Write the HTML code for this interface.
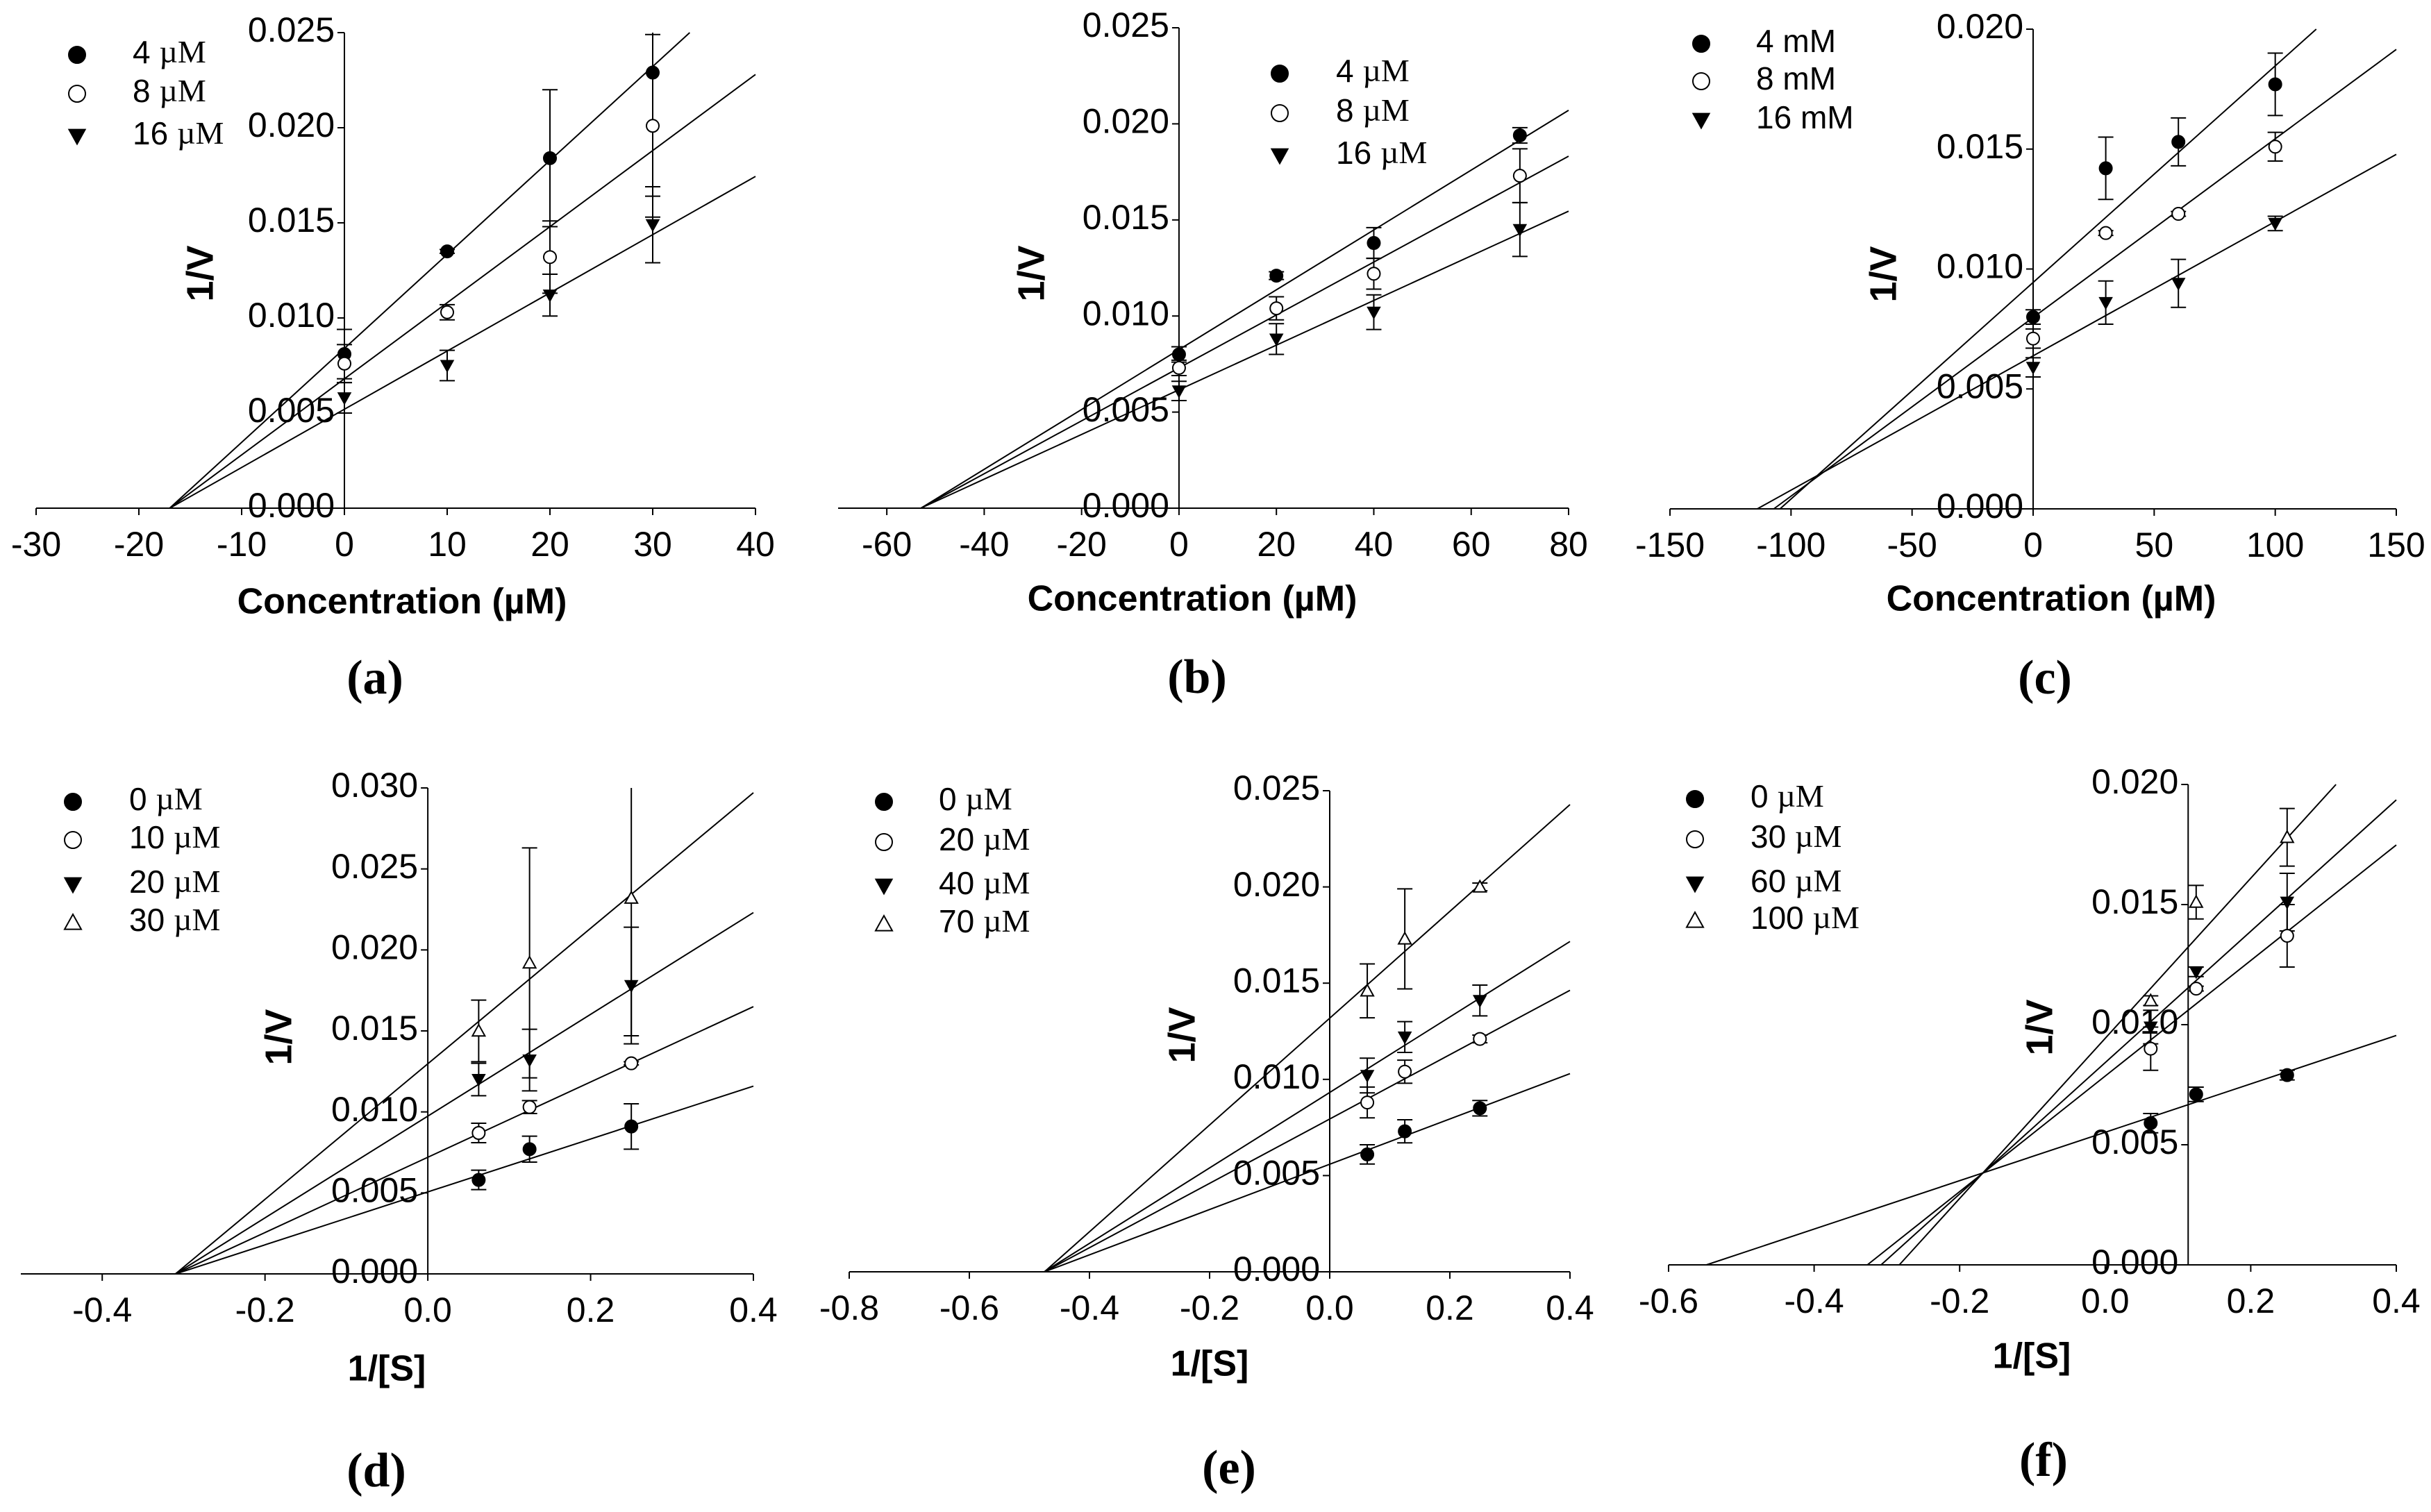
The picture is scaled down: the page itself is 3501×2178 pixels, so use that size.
<!DOCTYPE html>
<html><head><meta charset="utf-8"><style>
html,body{margin:0;padding:0;background:#fff;}
svg{display:block;}
</style></head><body>
<svg id="fig" xmlns="http://www.w3.org/2000/svg" width="3501" height="2178" viewBox="0 0 3501 2178"></svg>
<script>
// ---------- DATA ----------
const panelA_x = [0, 10, 20, 30];
const panelA_labels = ["4", "8", "16"];
const panelA_y = [[0.0081,0.0135,0.0184,0.0229],[0.0076,0.0103,0.0132,0.0201],[0.0058,0.0075,0.0112,0.0149]];
const panelA_err = [[0.0013,0.0001,0.0036,0.0065],[0.0010,0.0004,0.0019,0.0048],[0.0008,0.0008,0.0011,0.0020]];
const panelA_slope = [0.000494,0.0004,0.000306];
const panelA_icpt = [0.0084,0.0068,0.0052];

const panelB_x = [0, 20, 40, 70];
const panelB_labels = ["4", "8", "16"];
const panelB_y = [[0.0080,0.0121,0.0138,0.0194],[0.0073,0.0104,0.0122,0.0173],[0.0061,0.0088,0.0102,0.0145]];
const panelB_err = [[0.0004,0.0002,0.0008,0.0004],[0.0004,0.0006,0.0008,0.0014],[0.0005,0.0008,0.0009,0.0014]];
const panelB_slope = [0.0001557,0.0001377,0.0001162];
const panelB_icpt = [0.00825,0.0073,0.00616];

const panelC_x = [0, 30, 60, 100];
const panelC_labels = ["4", "8", "16"];
const panelC_y = [[0.0080,0.0142,0.0153,0.0177],[0.0071,0.0115,0.0123,0.0151],[0.0059,0.0086,0.0094,0.0119]];
const panelC_err = [[0.0003,0.0013,0.0010,0.0013],[0.0004,0.0001,0.0001,0.0006],[0.0004,0.0009,0.0010,0.0003]];
const panelC_slope = [0.0000903,0.0000745,0.000056];
const panelC_icpt = [0.00944,0.00798,0.00638];

const panelD_x = [0.0625, 0.125, 0.25];
const panelD_labels = ["0", "10", "20", "30"];
const panelD_y = [[0.0058,0.0077,0.0091],[0.0087,0.0103,0.0130],[0.0120,0.0132,0.0178],[0.0150,0.0192,0.0232]];
const panelD_err = [[0.0006,0.0008,0.0014],[0.0006,0.0004,0.0001],[0.0010,0.0019,0.0036],[0.0019,0.0071,0.0085]];
const panelD_slope = [0.01633,0.02324,0.03141,0.04183];
const panelD_icpt = [0.00506,0.0072,0.00974,0.01297];

const panelE_x = [0.0625, 0.125, 0.25];
const panelE_labels = ["0", "20", "40", "70"];
const panelE_y = [[0.0061,0.0073,0.0085],[0.0088,0.0104,0.0121],[0.0102,0.0122,0.0141],[0.0146,0.0173,0.0200]];
const panelE_err = [[0.0005,0.0006,0.0004],[0.0008,0.0006,0.0002],[0.0009,0.0008,0.0008],[0.0014,0.0026,0.0002]];
const panelE_slope = [0.01177,0.01672,0.01961,0.02775];
const panelE_icpt = [0.00559,0.00794,0.00932,0.01318];

const panelF_x = [0.0625, 0.125, 0.25];
const panelF_labels = ["0", "30", "60", "100"];
const panelF_y = [[0.0059,0.0071,0.0079],[0.0090,0.0115,0.0137],[0.0099,0.0122,0.0151],[0.0110,0.0151,0.0178]];
const panelF_err = [[0.0004,0.0003,0.0002],[0.0009,0.0001,0.0013],[0.0007,0.0002,0.0012],[0.0002,0.0007,0.0012]];
const panelF_slope = [0.010074,0.02405,0.02734,0.03333];
const panelF_icpt = [0.00552,0.00786,0.00842,0.00943];

// ---------- RENDER ----------
const NS = "http://www.w3.org/2000/svg";
const svg = document.getElementById("fig");
function mk(tag, attrs, parent){ const e=document.createElementNS(NS,tag); for(const k in attrs) e.setAttribute(k,attrs[k]); (parent||svg).appendChild(e); return e; }
const markers = ["fc","oc","ft","ot"];

function drawMarker(g, type, cx, cy, r){
  let e;
  if(type==="fc"||type==="oc"){
    e = mk("circle",{cx:cx,cy:cy,r:r,fill:type==="fc"?"#000":"#fff",stroke:"#000","stroke-width":2},g);
  } else if(type==="ft"){
    e = mk("polygon",{points:`${cx-r},${cy-r*0.8} ${cx+r},${cy-r*0.8} ${cx},${cy+r}`,fill:"#000",stroke:"#000","stroke-width":1.5},g);
  } else {
    e = mk("polygon",{points:`${cx-r},${cy+r*0.8} ${cx+r},${cy+r*0.8} ${cx},${cy-r}`,fill:"#fff",stroke:"#000","stroke-width":2},g);
  }
  
  
  return e;
}

function panel(c){
  const g = mk("g",{});
  
  
  const X = v => c.px0 + (v - c.xmin)/(c.xmax - c.xmin)*(c.px1 - c.px0);
  const Y = v => c.py0 - v/c.ymax*(c.py0 - c.py1);
  const yaxX = X(c.yAxisAt);
  const xa = mk("line",{x1:X(c.xmin),y1:c.py0,x2:X(c.xmax),y2:c.py0,stroke:"#000","stroke-width":2},g);
   
  const ya = mk("line",{x1:yaxX,y1:c.py0,x2:yaxX,y2:c.py1,stroke:"#000","stroke-width":2},g);
   
  for(let v=c.xt0; v<=c.xt1+1e-9; v+=c.xstep){
    const px = X(v);
    mk("line",{x1:px,y1:c.py0,x2:px,y2:c.py0+10,stroke:"#000","stroke-width":2},g);
    const t = mk("text",{x:px,y:c.py0+56,"text-anchor":"middle","dominant-baseline":"middle","font-family":"Liberation Sans, sans-serif","font-size":50},g);
    t.textContent = (Math.abs(v)<1e-9?0:v).toFixed(c.xdec);
     
  }
  for(let v=0; v<=c.ymax+1e-9; v+=0.005){
    const py = Y(v);
    mk("line",{x1:yaxX-10,y1:py,x2:yaxX,y2:py,stroke:"#000","stroke-width":2},g);
    const t = mk("text",{x:yaxX-14,y:py,"text-anchor":"end","dominant-baseline":"middle","font-family":"Liberation Sans, sans-serif","font-size":50},g);
    t.textContent = v.toFixed(3);
     
  }
  c.slope.forEach((m,i)=>{
    const b = c.icpt[i];
    let xa0 = -b/m; if(xa0 < c.xmin) xa0 = c.xmin;
    let xb = (c.ymax - b)/m; if(xb > c.xmax) xb = c.xmax;
    const l = mk("line",{x1:X(xa0),y1:Y(m*xa0+b),x2:X(xb),y2:Y(m*xb+b),stroke:"#000","stroke-width":2},g);
     
  });
  c.y.forEach((ser,i)=>{
    ser.forEach((v,j)=>{
      const px = X(c.x[j]); const e = c.err[i][j];
      const top = Math.min(v+e, c.ymax), bot = v-e;
      const eb = mk("line",{x1:px,y1:Y(top),x2:px,y2:Y(bot),stroke:"#000","stroke-width":2},g);
       
      if(v+e <= c.ymax) mk("line",{x1:px-11,y1:Y(top),x2:px+11,y2:Y(top),stroke:"#000","stroke-width":2},g);
      mk("line",{x1:px-11,y1:Y(bot),x2:px+11,y2:Y(bot),stroke:"#000","stroke-width":2},g);
    });
  });
  c.y.forEach((ser,i)=>{ ser.forEach((v,j)=>{ drawMarker(g, markers[i], X(c.x[j]), Y(v), 9); }); });
  c.labels.forEach((lab,i)=>{
    const ly = c.legY[i];
    drawMarker(g, markers[i], c.legX, ly, 12);
    const t = mk("text",{x:c.legTX,y:ly,"dominant-baseline":"middle","font-family":"Liberation Sans, sans-serif","font-size":46},g);
     
    const s1 = mk("tspan",{},t); s1.textContent = lab + " ";
    if(c.unit==="mM"){ const s2 = mk("tspan",{},t); s2.textContent="mM"; }
    else { const s2 = mk("tspan",{"font-family":"Liberation Serif, serif"},t); s2.textContent="µM"; }
  });
  const xt = mk("text",{x:c.xtX,y:c.xtY,"text-anchor":"middle","dominant-baseline":"middle","font-family":"Liberation Sans, sans-serif","font-weight":"bold","font-size":52},g);
  xt.textContent = c.xtitle;  
  const yt = mk("text",{x:c.ytX,y:c.ytY,"text-anchor":"middle","dominant-baseline":"middle","font-family":"Liberation Sans, sans-serif","font-weight":"bold","font-size":54,transform:`rotate(-90 ${c.ytX} ${c.ytY})`},g);
  yt.textContent = "1/V";  
  const pl = mk("text",{x:c.plX,y:c.plY,"text-anchor":"middle","dominant-baseline":"middle","font-family":"Liberation Serif, serif","font-weight":"bold","font-size":70},g);
  pl.textContent = "("+c.id+")";  
}

const conc = "Concentration (µM)";
panel({id:"a",x:panelA_x,y:panelA_y,err:panelA_err,slope:panelA_slope,icpt:panelA_icpt,labels:panelA_labels,unit:"uM",
  xmin:-30,xmax:40,px0:52,px1:1088,py0:732,py1:47,ymax:0.025,yAxisAt:0,xt0:-30,xt1:40,xstep:10,xdec:0,
  legX:111,legTX:191,legY:[79,135,196],xtitle:conc,xtX:579,xtY:870,ytX:292,ytY:394,plX:540,plY:983});
panel({id:"b",x:panelB_x,y:panelB_y,err:panelB_err,slope:panelB_slope,icpt:panelB_icpt,labels:panelB_labels,unit:"uM",
  xmin:-70,xmax:80,px0:1207,px1:2259,py0:732,py1:40,ymax:0.025,yAxisAt:0,xt0:-60,xt1:80,xstep:20,xdec:0,
  legX:1843,legTX:1924,legY:[106,163,224],xtitle:conc,xtX:1717,xtY:866,ytX:1489,ytY:394,plX:1724,plY:982});
panel({id:"c",x:panelC_x,y:panelC_y,err:panelC_err,slope:panelC_slope,icpt:panelC_icpt,labels:panelC_labels,unit:"mM",
  xmin:-150,xmax:150,px0:2405,px1:3451,py0:733,py1:42,ymax:0.020,yAxisAt:0,xt0:-150,xt1:150,xstep:50,xdec:0,
  legX:2450,legTX:2529,legY:[63,117,173],xtitle:conc,xtX:2954,xtY:866,ytX:2716,ytY:395,plX:2945,plY:983});
panel({id:"d",x:panelD_x,y:panelD_y,err:panelD_err,slope:panelD_slope,icpt:panelD_icpt,labels:panelD_labels,unit:"uM",
  xmin:-0.5,xmax:0.4,px0:30,px1:1085,py0:1835,py1:1135,ymax:0.030,yAxisAt:0,xt0:-0.4,xt1:0.4,xstep:0.2,xdec:1,
  legX:105,legTX:186,legY:[1155,1210,1274,1329],xtitle:"1/[S]",xtX:557,xtY:1975,ytX:405,ytY:1494,plX:542,plY:2125});
panel({id:"e",x:panelE_x,y:panelE_y,err:panelE_err,slope:panelE_slope,icpt:panelE_icpt,labels:panelE_labels,unit:"uM",
  xmin:-0.8,xmax:0.4,px0:1223,px1:2261,py0:1832,py1:1139,ymax:0.025,yAxisAt:0,xt0:-0.8,xt1:0.4,xstep:0.2,xdec:1,
  legX:1273,legTX:1352,legY:[1155,1213,1276,1331],xtitle:"1/[S]",xtX:1742,xtY:1968,ytX:1706,ytY:1491,plX:1770,plY:2121});
panel({id:"f",x:panelF_x,y:panelF_y,err:panelF_err,slope:panelF_slope,icpt:panelF_icpt,labels:panelF_labels,unit:"uM",
  xmin:-0.6,xmax:0.4,px0:2403,px1:3451,py0:1822,py1:1130,ymax:0.020,yAxisAt:0.114,xt0:-0.6,xt1:0.4,xstep:0.2,xdec:1,
  legX:2441,legTX:2521,legY:[1151,1209,1273,1326],xtitle:"1/[S]",xtX:2926,xtY:1957,ytX:2941,ytY:1480,plX:2943,plY:2110});
</script>
</body></html>
